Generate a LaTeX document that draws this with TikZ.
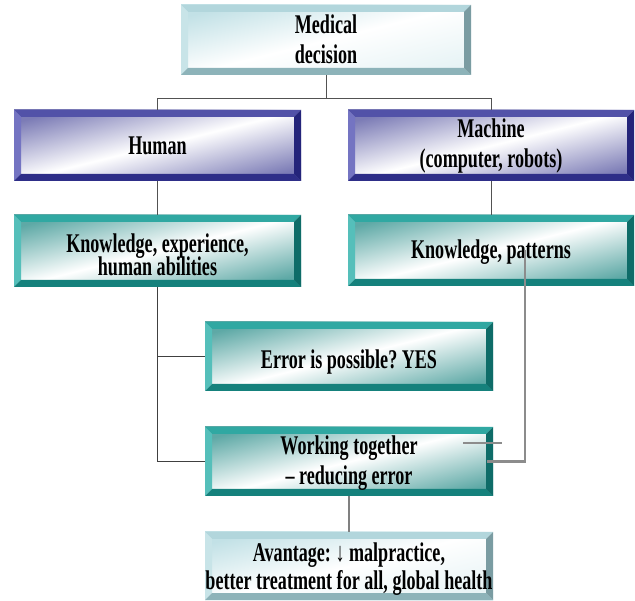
\documentclass[tikz,border=0pt]{standalone}
\usepackage{fontspec}
\newfontfamily\bxfont[FakeStretch=0.67]{Liberation Serif}
\usetikzlibrary{calc}
\definecolor{lightT}{HTML}{B2D6DC}
\definecolor{lightL}{HTML}{C8E4E8}
\definecolor{lightB}{HTML}{8DB3B9}
\definecolor{lightR}{HTML}{7A9CA2}
\definecolor{lightI}{HTML}{C2E1E6}
\definecolor{blueT}{HTML}{5252A8}
\definecolor{blueL}{HTML}{7474C2}
\definecolor{blueB}{HTML}{2E2E88}
\definecolor{blueR}{HTML}{24247A}
\definecolor{blueI}{HTML}{7C7CB6}
\definecolor{tealT}{HTML}{30A8A2}
\definecolor{tealL}{HTML}{55BFBA}
\definecolor{tealB}{HTML}{15817C}
\definecolor{tealR}{HTML}{0E6C68}
\definecolor{tealI}{HTML}{5EA9A6}
\newcommand\bevw{7pt}
\newcommand\lns[2][0pt]{\raisebox{-#1}[\height][\depth]{\begin{tabular}{@{}c@{}}#2\end{tabular}}}
\tikzset{
  bev/.style={draw=none, inner sep=0pt,
    font=\bxfont\bfseries\fontsize{27}{30}\selectfont\frenchspacing,
    path picture={
      \fill[bT] (path picture bounding box.north west) -- (path picture bounding box.north east)
        -- ([shift={(-\bevw,-\bevw)}]path picture bounding box.north east)
        -- ([shift={(\bevw,-\bevw)}]path picture bounding box.north west) -- cycle;
      \fill[bL] (path picture bounding box.north west) -- (path picture bounding box.south west)
        -- ([shift={(\bevw,\bevw)}]path picture bounding box.south west)
        -- ([shift={(\bevw,-\bevw)}]path picture bounding box.north west) -- cycle;
      \fill[bB] (path picture bounding box.south west) -- (path picture bounding box.south east)
        -- ([shift={(-\bevw,\bevw)}]path picture bounding box.south east)
        -- ([shift={(\bevw,\bevw)}]path picture bounding box.south west) -- cycle;
      \fill[bR] (path picture bounding box.north east) -- (path picture bounding box.south east)
        -- ([shift={(-\bevw,\bevw)}]path picture bounding box.south east)
        -- ([shift={(-\bevw,-\bevw)}]path picture bounding box.north east) -- cycle;
    }},
  lightbox/.style={bev, /utils/exec={\colorlet{bT}{lightT}\colorlet{bL}{lightL}\colorlet{bB}{lightB}\colorlet{bR}{lightR}},
    left color=lightI, right color=white!60!lightI, middle color=white, shading angle=14},
  bluebox/.style={bev, /utils/exec={\colorlet{bT}{blueT}\colorlet{bL}{blueL}\colorlet{bB}{blueB}\colorlet{bR}{blueR}},
    left color=blueI, right color=blueI, middle color=white, shading angle=14},
  tealbox/.style={bev, /utils/exec={\colorlet{bT}{tealT}\colorlet{bL}{tealL}\colorlet{bB}{tealB}\colorlet{bR}{tealR}},
    left color=tealI, right color=tealI, middle color=white, shading angle=14},
  treeline/.style={draw=black!68, line width=1pt},
  leftline/.style={draw=black!75, line width=1.2pt},
  grayline/.style={draw=black!45, line width=2.5pt},
  midline/.style={draw=black!50, line width=1.5pt},
}
\begin{document}
\begin{tikzpicture}[x=1pt,y=1pt]
\useasboundingbox (0,0) rectangle (635,-601);
\node[lightbox, minimum width=290pt, minimum height=70pt] (med) at (326,-40) {\lns[3pt]{Medical\\decision}};
\node[bluebox, minimum width=287pt, minimum height=71pt] (hum) at (157.5,-145.5) {\lns[3.5pt]{Human}};
\node[bluebox, minimum width=286pt, minimum height=71pt] (mach) at (491,-145.5) {\lns[1.5pt]{Machine\\(computer, robots)}};
\node[tealbox, minimum width=287pt, minimum height=72pt] (kh) at (157.5,-251) {\lns[7.5pt]{Knowledge, experience,\\[-7pt]human abilities}};
\node[tealbox, minimum width=286pt, minimum height=71pt] (km) at (491,-250.5) {\lns[2.5pt]{Knowledge, patterns}};
\node[tealbox, minimum width=288pt, minimum height=69pt] (err) at (349,-356.5) {\lns[6.5pt]{Error is possible? YES}};
\node[tealbox, minimum width=288pt, minimum height=69pt] (work) at (349,-461.5) {\lns[2.5pt]{Working together\\– reducing error}};
\node[lightbox, minimum width=288pt, minimum height=68pt] (adv) at (349,-566) {\lns[3pt]{Avantage: ↓ malpractice,\\[-2pt]better treatment for all, global health}};
\coordinate (split) at ($(med.south)+(0,-23)$);
\draw[treeline] (med.south) -- (split);
\draw[treeline] (hum.north) |- (split) -| (mach.north);
\draw[treeline] (hum.south) -- (kh.north);
\draw[treeline] (mach.south) -- (km.north);
\draw[leftline] (kh.south) |- (work.west);
\draw[leftline] (kh.south |- err.west) -- (err.west);
\coordinate (kmtap) at ($(km.center)+(34,0)$);
\coordinate (kmend) at ($(work.east)+(-6,0)$);
\draw[grayline] (kmtap) |- (kmend);
\coordinate (stubA) at ($(work.east)+(-30,18.5)$);
\coordinate (stubB) at ($(work.east)+(9,18.5)$);
\draw[grayline] (stubA) -- (stubB);
\draw[midline] (work.south) -- (adv.north);
\end{tikzpicture}
\end{document}
